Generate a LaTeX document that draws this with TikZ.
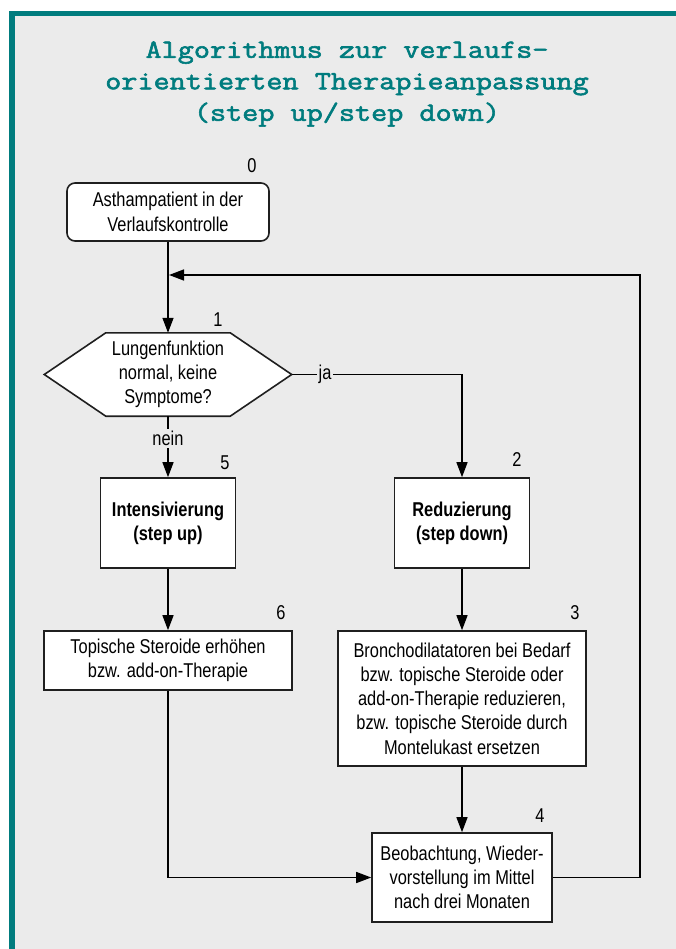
\documentclass[tikz,border=0pt]{standalone}
\usepackage{fontspec}
\setmainfont{Liberation Sans}[FakeStretch=0.82]
\newfontfamily\titlefont{Latin Modern Mono}[FakeBold=2.2, FakeStretch=1.19]
\usetikzlibrary{arrows.meta,calc,backgrounds}
\definecolor{teal1}{RGB}{0,124,126}
\definecolor{bggray}{RGB}{235,235,235}
\newcommand{\diagfont}{\fontsize{20}{24.3}\selectfont}
\begin{document}
\begin{tikzpicture}[x=1pt,y=-1pt,
  box/.style={draw=black!88, line width=1.6pt, fill=white, align=center, inner sep=0pt, font=\diagfont},
  boldbox/.style={box, font=\diagfont\bfseries},
  outline/.style={draw=black!88, line width=1.6pt, fill=white},
  conn/.style={line width=1.4pt, draw=black},
  arr/.style={conn, -{Triangle[length=15pt,width=11pt]}},
  num/.style={font=\diagfont, inner sep=0pt},
  lab/.style={font=\diagfont, fill=bggray, inner sep=2pt}]
\useasboundingbox (0,0) rectangle (676,949);

% title
\node[font={\titlefont\fontsize{26.3}{31.5}\selectfont}, text=teal1, align=center] (title) at (347,84)
  {Algorithmus zur verlaufs-\\orientierten Therapieanpassung\\(step up/step down)};

% nodes
\node[box, rounded corners=8pt, minimum width=202pt, minimum height=58pt] (b0) at (168,212) {Asthampatient in der\\Verlaufskontrolle};
\node[align=center, inner sep=0pt, font=\diagfont, minimum width=247pt, minimum height=83pt] (hex) at (168,374.5) {Lungenfunktion\\normal, keine\\Symptome?};
\node[boldbox, minimum width=135pt, minimum height=90pt] (b5) at (168,523) {Intensivierung\\(step up)};
\node[boldbox, minimum width=135pt, minimum height=90pt] (b2) at (462,523) {Reduzierung\\(step down)};
\node[box, minimum width=248pt, minimum height=59pt] (b6) at (168,660.5) {Topische Steroide erhöhen\\bzw. add-on-Therapie};
\node[box, minimum width=248pt, minimum height=135pt] (b3) at (462,698.5) {Bronchodilatatoren bei Bedarf\\bzw. topische Steroide oder\\add-on-Therapie reduzieren,\\bzw. topische Steroide durch\\Montelukast ersetzen};
\node[box, minimum width=180pt, minimum height=89pt] (b4) at (462,877.5) {Beobachtung, Wieder-\\vorstellung im Mittel\\nach drei Monaten};

% step numbers
\node[num] (n0) at (252,166) {0};
\node[num] (n1) at (218,320) {1};
\node[num] (n5) at (225,463) {5};
\node[num] (n2) at (517,460) {2};
\node[num] (n6) at (281,613) {6};
\node[num] (n3) at (575,613) {3};
\node[num] (n4) at (540,816) {4};

% connectors
\coordinate (rt) at (640,275);
\coordinate (jn) at (169,275);
\draw[arr] (b0.south) -- (hex.north);
\draw[arr] (hex.east) -| node[lab, pos=0.098] {ja} (b2.north);
\draw[arr] (hex.south) -- node[lab, pos=0.36] {nein} (b5.north);
\draw[arr] (b5.south) -- (b6.north);
\draw[arr] (b2.south) -- (b3.north);
\draw[arr] (b3.south) -- (b4.north);
\draw[arr] (b6.south) |- (b4.west);
\draw[arr] (b4.east) -| (rt) -- (jn);

\begin{pgfonlayer}{background}
  \fill[white] (0,0) rectangle (676,949);
  \fill[bggray] (15,16) rectangle (676,949);
  \fill[teal1] (9,11) rectangle (676,16);
  \fill[teal1] (9,11) rectangle (15,949);
  \draw[outline] (hex.west) -- ($(hex.north west)+(61.5,0)$) -- ($(hex.north east)+(-61.5,0)$)
    -- (hex.east) -- ($(hex.south east)+(-61.5,0)$) -- ($(hex.south west)+(61.5,0)$) -- cycle;
\end{pgfonlayer}
\end{tikzpicture}
\end{document}
